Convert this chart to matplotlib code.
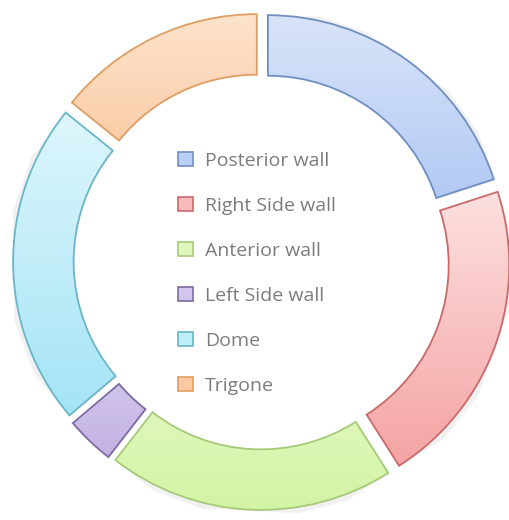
import matplotlib
matplotlib.use('Agg')
import matplotlib.pyplot as plt
import numpy as np
from matplotlib.colors import LinearSegmentedColormap
from matplotlib.patches import Patch

labels = ['Posterior wall', 'Right Side wall', 'Anterior wall', 'Left Side wall', 'Dome', 'Trigone']
values = [20.0, 21.0, 19.5, 3.3, 22.0, 14.2]
top_colors = ['#d9e4f9', '#fde0e0', '#effcdc', '#e7e0f5', '#def6fc', '#fde3cd']
bottom_colors = ['#a6c2f3', '#f5a3a3', '#d2f4a4', '#c2b2e4', '#a4e4f6', '#f8ba88']
edge_colors = ['#6f8fc2', '#c96a6a', '#a6ca78', '#7d6ba2', '#6ab5c9', '#df9e62']
legend_face = ['#b9cff5', '#f7b9b9', '#ddf7bd', '#d2c6ec', '#bdeef9', '#fbcaa3']

W, H = 509, 520
fig = plt.figure(figsize=(W / 100, H / 100), dpi=100)
ax = fig.add_axes([0, 0, 1, 1])

scale = 237.5
cx, cy = 261.5, H - 261.5

wedges, _ = ax.pie(values, radius=1.0, startangle=90, counterclock=False,
                   explode=[0.046] * len(values),
                   wedgeprops=dict(width=0.255, linewidth=1.3, zorder=3))

for w, tc, bc, ec in zip(wedges, top_colors, bottom_colors, edge_colors):
    verts = w.get_path().vertices
    x0, y0 = verts.min(axis=0)
    x1, y1 = verts.max(axis=0)
    # very soft shadow
    for k, a in [(1, 0.035), (2, 0.02)]:
        sh = plt.Polygon(verts + np.array([0.0015 * k, -0.004 * k]), closed=True,
                         facecolor='black', edgecolor='none', alpha=a, zorder=1)
        ax.add_patch(sh)
    cmap = LinearSegmentedColormap.from_list('g', [tc, bc])
    grad = np.linspace(0, 1, 256).reshape(-1, 1)
    im = ax.imshow(grad, cmap=cmap, extent=[x0, x1, y0, y1], origin='upper',
                   aspect='auto', interpolation='bilinear', zorder=2)
    im.set_clip_path(w)
    w.set_facecolor('none')
    w.set_edgecolor(ec)

handles = [Patch(facecolor=fc, edgecolor=ec, linewidth=1.2)
           for fc, ec in zip(legend_face, edge_colors)]
leg = ax.legend(handles, labels, loc='upper left',
                bbox_to_anchor=(178 / W, 1 - 152 / H), bbox_transform=fig.transFigure,
                frameon=False, borderpad=0, borderaxespad=0,
                prop={'family': 'Open Sans', 'size': 14},
                labelcolor='#7c7c7c', handlelength=0.78, handleheight=0.75,
                handletextpad=0.6, labelspacing=1.39)

ax.set_xlim(-cx / scale, (W - cx) / scale)
ax.set_ylim(-cy / scale, (H - cy) / scale)
ax.set_aspect('auto')
ax.axis('off')

fig.savefig('out.png', dpi=100, facecolor='white')
